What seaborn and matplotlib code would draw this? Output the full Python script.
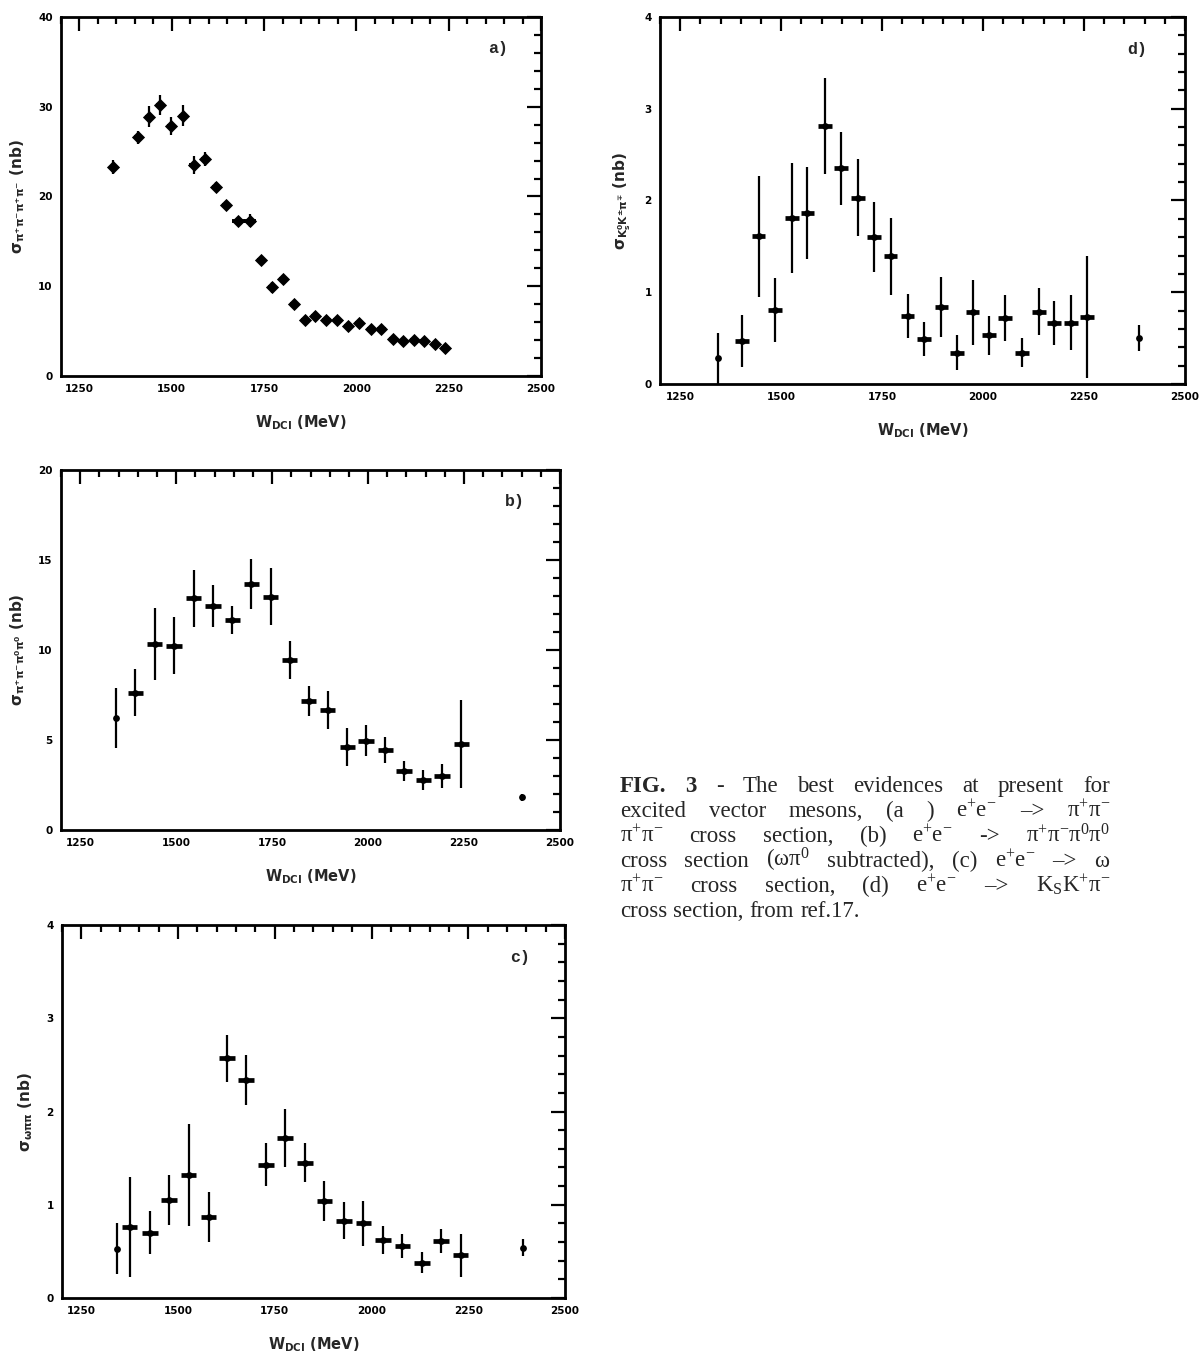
import numpy as np
import matplotlib
matplotlib.use("Agg")
import matplotlib.pyplot as plt
from matplotlib.ticker import MultipleLocator
import seaborn as sns

# (a) e+e- -> pi+pi-pi+pi-
w_a = [1341, 1409, 1439, 1469, 1498, 1530, 1559, 1589, 1619, 1648,
       1680, 1712, 1741, 1771, 1801, 1830, 1860, 1889, 1919, 1948,
       1977, 2007, 2039, 2068, 2098, 2127, 2155, 2182, 2212, 2239]
sig_a = [23.3, 26.6, 28.9, 30.2, 27.9, 29.0, 23.5, 24.2, 21.1, 19.1,
         17.3, 17.3, 12.9, 9.9, 10.8, 8.0, 6.25, 6.7, 6.25, 6.25,
         5.6, 5.95, 5.2, 5.2, 4.1, 3.9, 4.0, 3.95, 3.6, 3.1]
err_a = [0.8, 0.7, 1.2, 1.1, 1.0, 1.2, 1.0, 0.8, 0.5, 0.4,
         0.3, 0.7, 0.4, 0.6, 0.4, 0.3, 0.3, 0.4, 0.3, 0.3,
         0.4, 0.3, 0.3, 0.3, 0.2, 0.2, 0.2, 0.2, 0.3, 0.3]

# (b) e+e- -> pi+pi-pi0pi0
w_b = [1342, 1394, 1444, 1494, 1546, 1596, 1646, 1696, 1746, 1796,
       1845, 1895, 1946, 1995, 2045, 2094, 2144, 2193, 2243, 2400]
sig_b = [6.2, 7.63, 10.33, 10.24, 12.87, 12.44, 11.67, 13.67, 12.96, 9.44,
         7.17, 6.67, 4.59, 4.96, 4.44, 3.30, 2.78, 3.0, 4.76, 1.81]
err_b = [1.67, 1.3, 2.0, 1.6, 1.57, 1.15, 0.8, 1.38, 1.57, 1.07,
         0.85, 1.06, 1.06, 0.85, 0.74, 0.55, 0.54, 0.65, 2.45, 0.2]

# (c) e+e- -> omega pi+pi-
w_c = [1342, 1375, 1427, 1477, 1527, 1579, 1626, 1675, 1727, 1776,
       1828, 1878, 1929, 1979, 2030, 2080, 2131, 2180, 2230, 2392]
sig_c = [0.53, 0.76, 0.70, 1.05, 1.32, 0.87, 2.57, 2.34, 1.43, 1.72,
         1.45, 1.04, 0.83, 0.80, 0.62, 0.56, 0.38, 0.61, 0.46, 0.54]
err_c = [0.27, 0.54, 0.23, 0.27, 0.55, 0.27, 0.25, 0.27, 0.23, 0.31,
         0.21, 0.21, 0.20, 0.24, 0.15, 0.13, 0.11, 0.13, 0.23, 0.09]

# (d) e+e- -> Ks K+ pi-
w_d = [1343, 1403, 1444, 1485, 1526, 1565, 1608, 1648, 1690, 1730,
       1771, 1813, 1853, 1897, 1935, 1974, 2015, 2055, 2096, 2138,
       2176, 2218, 2258, 2386]
sig_d = [0.28, 0.47, 1.61, 0.81, 1.81, 1.86, 2.81, 2.35, 2.03, 1.60,
         1.39, 0.74, 0.49, 0.84, 0.34, 0.78, 0.53, 0.72, 0.34, 0.79,
         0.67, 0.67, 0.73, 0.50]
err_d = [0.28, 0.28, 0.66, 0.35, 0.60, 0.50, 0.52, 0.40, 0.42, 0.38,
         0.42, 0.24, 0.19, 0.33, 0.19, 0.35, 0.21, 0.25, 0.16, 0.26,
         0.24, 0.30, 0.66, 0.14]

xlabel = r"W$_{\rm DCI}$ (MeV)"
x_ticks = [1250, 1500, 1750, 2000, 2250, 2500]

sns.set_style("white")
plt.rcParams["font.family"] = ["DejaVu Sans"]
plt.rcParams["font.weight"] = "bold"
plt.rcParams["mathtext.default"] = "regular"

fig = plt.figure(figsize=(12.02, 13.57), dpi=100)


def px_axes(x0, x1, y0, y1):
    W, H = 1202, 1357
    return fig.add_axes([x0 / W, 1 - y1 / H, (x1 - x0) / W, (y1 - y0) / H])


def style_axes(ax, ymax, ymaj, ymin, ylabel, tag):
    ax.set_xlim(1200, 2500)
    ax.set_ylim(0, ymax)
    ax.xaxis.set_major_locator(MultipleLocator(250))
    ax.xaxis.set_minor_locator(MultipleLocator(50))
    ax.yaxis.set_major_locator(MultipleLocator(ymaj))
    ax.yaxis.set_minor_locator(MultipleLocator(ymin))
    ax.tick_params(which="both", direction="in", top=True, right=True,
                   width=1.6, colors="black", labelsize=7.5, pad=6)
    ax.tick_params(which="major", length=10)
    ax.tick_params(which="minor", length=5)
    for s in ax.spines.values():
        s.set_linewidth(2.0)
        s.set_color("black")
    ax.set_xticks(x_ticks)
    ax.set_xticklabels([str(t) for t in x_ticks], fontweight="bold")
    for lab in ax.get_yticklabels():
        lab.set_fontweight("bold")
    ax.set_xlabel(xlabel, fontsize=10.5, fontweight="bold", labelpad=14)
    ax.set_ylabel(ylabel, fontsize=11, fontweight="bold", labelpad=8)
    ax.text(0.91, 0.9, tag, transform=ax.transAxes, fontsize=12,
            fontweight="bold", family="Liberation Mono", ha="center")


def draw_points(ax, w, s, e, xerr, ends_plain=True):
    w = np.asarray(w, float)
    s = np.asarray(s, float)
    e = np.asarray(e, float)
    xe = np.full(len(w), float(xerr))
    if ends_plain:
        xe[0] = 0
        xe[-1] = 0
    # thin vertical error bars
    ax.errorbar(w, s, yerr=e, fmt="none", ecolor="black", elinewidth=1.6,
                capsize=0)
    # thick horizontal bin bars
    ax.errorbar(w, s, xerr=xe, fmt="none", ecolor="black", elinewidth=3.4,
                capsize=0)
    sns.scatterplot(x=w, y=s, ax=ax, color="black", s=24, marker="o",
                    edgecolor="black", linewidth=0)


# panel a
ax_a = px_axes(61, 541, 17, 376)
xe_a = np.full(len(w_a), 11.0)
xe_a[0] = 0
xe_a[10] = 18
xe_a[11] = 17
ax_a.errorbar(w_a, sig_a, yerr=err_a, fmt="none", ecolor="black",
              elinewidth=1.6, capsize=0)
ax_a.errorbar(w_a, sig_a, xerr=xe_a, fmt="none", ecolor="black",
              elinewidth=2.8, capsize=0)
sns.scatterplot(x=w_a, y=sig_a, ax=ax_a, color="black", s=45, marker="D",
                linewidth=0)
style_axes(ax_a, 40, 10, 2,
           r"$\sigma_{\pi^{+}\pi^{-}\pi^{+}\pi^{-}}$ (nb)", "a)")

# panel d
ax_d = px_axes(660, 1185, 17, 384)
draw_points(ax_d, w_d, sig_d, err_d, 17)
style_axes(ax_d, 4, 1, 0.2,
           r"$\sigma_{K^{0}_{s}K^{\pm}\pi^{\mp}}$ (nb)", "d)")

# panel b
ax_b = px_axes(61, 560, 470, 830)
draw_points(ax_b, w_b, sig_b, err_b, 20)
style_axes(ax_b, 20, 5, 1,
           r"$\sigma_{\pi^{+}\pi^{-}\pi^{0}\pi^{0}}$ (nb)", "b)")

# panel c
ax_c = px_axes(62, 565, 925, 1298)
draw_points(ax_c, w_c, sig_c, err_c, 20)
style_axes(ax_c, 4, 1, 0.2, r"$\sigma_{\omega\pi\pi}$ (nb)", "c)")

# caption, justified line by line
caption = [
    r"FIG. 3 - The best evidences at present for",
    r"excited vector mesons, (a ) e$^{+}$e$^{-}$ –> $\pi^{+}\pi^{-}$",
    r"$\pi^{+}\pi^{-}$ cross section, (b) e$^{+}$e$^{-}$ -> $\pi^{+}\pi^{-}\pi^{0}\pi^{0}$",
    r"cross section ($\omega\pi^{0}$ subtracted), (c) e$^{+}$e$^{-}$ –> $\omega$",
    r"$\pi^{+}\pi^{-}$ cross section, (d) e$^{+}$e$^{-}$ –> K$_{S}$K$^{+}\pi^{-}$",
    r"cross section, from ref.17.",
]
cap_x0, cap_x1 = 620, 1110
cap_y0, cap_dy = 792, 25.0
renderer = fig.canvas.get_renderer()
for i, line in enumerate(caption):
    words = line.split(" ")
    y = 1 - (cap_y0 + i * cap_dy) / 1357
    items = []
    for j, wd in enumerate(words):
        bold = (i == 0 and j < 2)
        t = fig.text(0, y, wd, fontsize=16.5, family="Liberation Serif",
                     fontweight="bold" if bold else "normal",
                     math_fontfamily="stix", va="baseline")
        items.append(t)
    widths = [t.get_window_extent(renderer).width for t in items]
    if i < len(caption) - 1:
        gap = (cap_x1 - cap_x0 - sum(widths)) / (len(items) - 1)
    else:
        gap = 6
    x = cap_x0
    for t, wpx in zip(items, widths):
        t.set_x(x / 1202)
        x += wpx + gap

fig.savefig("out.png", dpi=100)
